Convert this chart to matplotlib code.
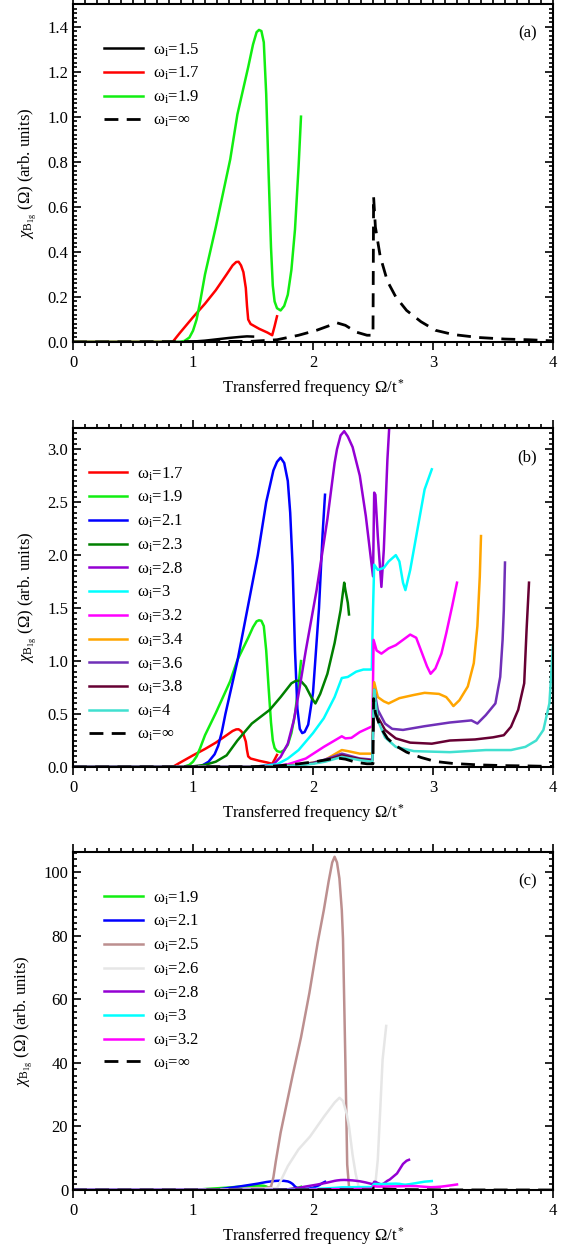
import matplotlib
matplotlib.use('Agg')
import matplotlib.pyplot as plt
from matplotlib.ticker import MultipleLocator

plt.rcParams['font.family'] = ['Liberation Serif', 'DejaVu Serif']
plt.rcParams['mathtext.fontset'] = 'custom'
plt.rcParams['mathtext.rm'] = 'Liberation Serif'
plt.rcParams['mathtext.it'] = 'Liberation Serif:italic'
plt.rcParams['font.size'] = 12

# curves, one per initial frequency omega_i
w15_x = [0, 0.9, 1.0, 1.1, 1.2, 1.3, 1.4, 1.45, 1.5]
w15_y = [0, 0, 0.002, 0.006, 0.012, 0.018, 0.023, 0.025, 0.024]

w17_x = [0, 0.83, 0.89, 1.0, 1.1, 1.19, 1.28, 1.33, 1.36, 1.38, 1.40, 1.42, 1.44,
         1.45, 1.46, 1.48, 1.55, 1.62, 1.66, 1.68, 1.70]
w17_y = [0, 0, 0.04, 0.11, 0.17, 0.23, 0.30, 0.34, 0.355, 0.356, 0.34, 0.31, 0.24,
         0.16, 0.10, 0.08, 0.059, 0.042, 0.03, 0.07, 0.114]

w19_x = [0, 0.89, 0.93, 0.97, 1.0, 1.03, 1.06, 1.1, 1.19, 1.31, 1.37, 1.46, 1.50,
         1.53, 1.55, 1.57, 1.59, 1.61, 1.63, 1.65, 1.665, 1.68, 1.70, 1.73, 1.76,
         1.79, 1.82, 1.85, 1.88, 1.90]
w19_y = [0, 0, 0.005, 0.02, 0.05, 0.1, 0.18, 0.30, 0.51, 0.81, 1.01, 1.22, 1.32,
         1.375, 1.385, 1.38, 1.33, 1.1, 0.75, 0.42, 0.25, 0.18, 0.15, 0.14, 0.16,
         0.21, 0.32, 0.5, 0.78, 1.0]

w21_x = [0, 1.0, 1.07, 1.13, 1.18, 1.21, 1.24, 1.27, 1.37, 1.54, 1.61, 1.67, 1.70,
         1.73, 1.76, 1.79, 1.81, 1.83, 1.85, 1.87, 1.89, 1.91, 1.93, 1.96, 2.0, 2.05,
         2.08, 2.10]
w21_y = [0, 0, 0.01, 0.05, 0.12, 0.2, 0.33, 0.5, 1.0, 2.0, 2.5, 2.8, 2.88,
         2.92, 2.87, 2.7, 2.4, 1.9, 1.1, 0.55, 0.36, 0.32, 0.33, 0.4, 0.7, 1.5,
         2.2, 2.57]

w23_x = [0, 0.95, 1.0, 1.1, 1.19, 1.28, 1.37, 1.49, 1.64, 1.73, 1.82, 1.86, 1.90,
         1.94, 1.99, 2.02, 2.06, 2.12, 2.18, 2.23, 2.26, 2.27, 2.29, 2.30]
w23_y = [0, 0, 0.006, 0.02, 0.05, 0.11, 0.25, 0.41, 0.54, 0.66, 0.79, 0.815, 0.81,
         0.76, 0.65, 0.60, 0.69, 0.88, 1.17, 1.48, 1.74, 1.67, 1.55, 1.44]

w25_x = [0, 1.0, 1.3, 1.6, 1.65, 1.67, 1.69, 1.73, 1.78, 1.83, 1.90, 1.97, 2.04,
         2.09, 2.13, 2.16, 2.18, 2.20, 2.22, 2.24, 2.25, 2.27, 2.285, 2.30, 2.35,
         2.42, 2.5]
w25_y = [0, 0.05, 0.2, 0.6, 1.0, 4.0, 9.0, 18, 27, 36, 48, 62, 78,
         88, 97, 103, 104.8, 103, 98, 88, 79, 40, 8, 1.0, 0.5, 0.5, 0.6]

w26_x = [0, 1.0, 1.5, 1.70, 1.73, 1.79, 1.88, 1.975, 2.09, 2.18, 2.22, 2.25, 2.28,
         2.30, 2.33, 2.355, 2.38, 2.45, 2.5, 2.52, 2.54, 2.56, 2.58, 2.61]
w26_y = [0, 0.05, 0.3, 0.6, 2.8, 7.5, 12.8, 16.8, 23, 27.5, 29, 28, 24,
         20, 11, 5.2, 1.0, 0.5, 0.5, 2.0, 9.6, 25, 41, 51.6]

w28_x = [0, 1.5, 1.67, 1.73, 1.79, 1.84, 1.88, 1.94, 2.03, 2.12, 2.18, 2.20, 2.23,
         2.26, 2.29, 2.33, 2.39, 2.44, 2.48, 2.50, 2.51, 2.52, 2.54, 2.57, 2.59,
         2.62, 2.64, 2.70, 2.75, 2.78, 2.80]
w28_y = [0, 0, 0.025, 0.095, 0.22, 0.44, 0.69, 1.1, 1.67, 2.34, 2.87, 3.0, 3.13,
         3.17, 3.12, 3.02, 2.75, 2.37, 1.99, 1.8, 2.59, 2.57, 2.18, 1.7, 2.05,
         2.9, 3.3, 5.2, 8.2, 9.2, 9.5]

w30_x = [0, 1.5, 1.70, 1.79, 1.88, 2.0, 2.09, 2.18, 2.24, 2.29, 2.36, 2.42, 2.49,
         2.50, 2.51, 2.54, 2.59, 2.63, 2.69, 2.72, 2.75, 2.77, 2.81, 2.87, 2.93, 2.99]
w30_y = [0, 0, 0.025, 0.08, 0.16, 0.32, 0.46, 0.66, 0.84, 0.85, 0.9, 0.92, 0.92,
         1.48, 1.91, 1.86, 1.88, 1.94, 2.0, 1.94, 1.74, 1.67, 1.86, 2.24, 2.62, 2.81]

w32_x = [0, 1.5, 1.65, 1.79, 1.94, 2.09, 2.18, 2.24, 2.27, 2.32, 2.39, 2.495, 2.505,
         2.53, 2.57, 2.63, 2.69, 2.75, 2.81, 2.86, 2.9, 2.95, 2.98, 3.02, 3.07,
         3.11, 3.16, 3.2]
w32_y = [0, 0, 0.005, 0.025, 0.08, 0.19, 0.25, 0.29, 0.27, 0.275, 0.33, 0.385, 1.2,
         1.1, 1.07, 1.12, 1.15, 1.2, 1.25, 1.22, 1.1, 0.95, 0.88, 0.93, 1.07,
         1.26, 1.52, 1.74]

w34_x = [0, 1.6, 1.75, 1.94, 2.09, 2.24, 2.29, 2.39, 2.495, 2.505, 2.51, 2.54, 2.59,
         2.63, 2.72, 2.84, 2.93, 3.05, 3.11, 3.14, 3.17, 3.22, 3.29, 3.34, 3.37,
         3.39, 3.40]
w34_y = [0, 0, 0.01, 0.03, 0.06, 0.16, 0.15, 0.126, 0.126, 0.7, 0.8, 0.66, 0.62,
         0.6, 0.65, 0.68, 0.7, 0.69, 0.66, 0.62, 0.575, 0.63, 0.76, 0.98, 1.33,
         1.8, 2.18]

w36_x = [0, 1.6, 1.8, 2.0, 2.1, 2.24, 2.39, 2.495, 2.505, 2.51, 2.54, 2.6, 2.66,
         2.75, 2.93, 3.14, 3.32, 3.37, 3.44, 3.52, 3.56, 3.58, 3.59, 3.60]
w36_y = [0, 0, 0.01, 0.04, 0.07, 0.126, 0.08, 0.07, 0.6, 0.73, 0.54, 0.41, 0.36,
         0.35, 0.385, 0.42, 0.44, 0.41, 0.49, 0.6, 0.85, 1.2, 1.48, 1.93]

w38_x = [0, 1.6, 1.8, 2.0, 2.1, 2.24, 2.39, 2.495, 2.505, 2.51, 2.54, 2.6, 2.69,
         2.81, 2.99, 3.14, 3.35, 3.5, 3.59, 3.65, 3.71, 3.76, 3.78, 3.80]
w38_y = [0, 0, 0.01, 0.035, 0.06, 0.11, 0.075, 0.06, 0.6, 0.7, 0.47, 0.35, 0.27,
         0.23, 0.22, 0.25, 0.26, 0.28, 0.3, 0.38, 0.54, 0.79, 1.3, 1.74]

w40_x = [0, 1.6, 1.8, 2.0, 2.1, 2.24, 2.39, 2.495, 2.505, 2.51, 2.54, 2.6, 2.69,
         2.84, 3.14, 3.44, 3.65, 3.77, 3.86, 3.92, 3.97, 4.0]
w40_y = [0, 0, 0.01, 0.03, 0.05, 0.095, 0.065, 0.05, 0.6, 0.73, 0.44, 0.28, 0.19,
         0.15, 0.14, 0.16, 0.16, 0.19, 0.25, 0.35, 0.6, 1.15]

winf_x = [0, 1.49, 1.7, 1.88, 2.03, 2.2, 2.27, 2.36, 2.45, 2.50, 2.505, 2.52, 2.56,
          2.62, 2.69, 2.78, 2.9, 3.02, 3.17, 3.38, 3.6, 3.8, 4.0]
winf_y = [0, 0.003, 0.01, 0.03, 0.052, 0.085, 0.074, 0.044, 0.03, 0.03, 0.645, 0.51, 0.38,
          0.27, 0.2, 0.14, 0.09, 0.052, 0.033, 0.02, 0.013, 0.01, 0.005]

curves = {
    '1.5': (w15_x, w15_y, 'black'),
    '1.7': (w17_x, w17_y, '#ff0000'),
    '1.9': (w19_x, w19_y, '#11ee11'),
    '2.1': (w21_x, w21_y, '#0000ff'),
    '2.3': (w23_x, w23_y, '#008000'),
    '2.5': (w25_x, w25_y, '#bc8f8f'),
    '2.6': (w26_x, w26_y, '#e6e6e6'),
    '2.8': (w28_x, w28_y, '#9400d3'),
    '3': (w30_x, w30_y, '#00ffff'),
    '3.2': (w32_x, w32_y, '#ff00ff'),
    '3.4': (w34_x, w34_y, '#ffa500'),
    '3.6': (w36_x, w36_y, '#7030b8'),
    '3.8': (w38_x, w38_y, '#660033'),
    '4': (w40_x, w40_y, '#40e0d0'),
}

panel_a = ['1.5', '1.7', '1.9']
panel_b = ['1.7', '1.9', '2.1', '2.3', '2.8', '3', '3.2', '3.4', '3.6', '3.8', '4']
panel_c = ['1.9', '2.1', '2.5', '2.6', '2.8', '3', '3.2']

W, H = 567, 1246
fig = plt.figure(figsize=(W / 100, H / 100), dpi=100)


def make_axes(top_px, bottom_px):
    return fig.add_axes([73 / W, 1 - bottom_px / H, (553 - 73) / W,
                         (bottom_px - top_px) / H])


def plot_panel(ax, keys, ylim, major, tag, leg_x):
    for k in keys:
        x, y, c = curves[k]
        ax.plot(x, y, color=c, lw=1.8, label=r'$\mathregular{\omega_i}$=' + k)
    ax.plot(winf_x, winf_y, color='black', lw=2, ls=(0, (5, 3)),
            label=r'$\mathregular{\omega_i}$=∞')
    ax.set_xlim(0, 4)
    ax.set_ylim(*ylim)
    ax.xaxis.set_major_locator(MultipleLocator(1))
    ax.xaxis.set_minor_locator(MultipleLocator(0.1))
    ax.yaxis.set_major_locator(MultipleLocator(major))
    ax.yaxis.set_minor_locator(MultipleLocator(major / 10))
    ax.tick_params(which='both', direction='in', top=True, right=True,
                   labelsize=12, width=1.2)
    ax.tick_params(axis='x', which='both', direction='out')
    ax.tick_params(which='major', length=6)
    ax.tick_params(which='minor', length=3)
    for s in ax.spines.values():
        s.set_linewidth(1.5)
    if major < 1:
        ax.yaxis.set_major_formatter(plt.FormatStrFormatter('%.1f'))
    ax.set_xlabel(r'Transferred frequency Ω/t$^*$', fontsize=12, labelpad=4)
    ax.set_ylabel(r'$\chi_{\mathrm{B}_{\mathrm{1g}}}$ (Ω) (arb. units)', fontsize=12,
                  labelpad=6)
    ax.text(0.967, 0.914, tag, transform=ax.transAxes, ha='right', va='center',
            fontsize=12)
    ax.legend(loc='upper left', bbox_to_anchor=(leg_x, 0.89), frameon=False,
              fontsize=12, handlelength=2.3, handletextpad=0.6, labelspacing=0.38,
              borderpad=0, borderaxespad=0)


ax_a = make_axes(4, 342)
plot_panel(ax_a, panel_a, (0, 1.5), 0.2, '(a)', 0.065)

ax_b = make_axes(428, 767)
plot_panel(ax_b, panel_b, (0, 3.2), 0.5, '(b)', 0.033)

ax_c = make_axes(852, 1190)
plot_panel(ax_c, panel_c, (0, 106.3), 20, '(c)', 0.065)

fig.savefig('out.png', dpi=100)
